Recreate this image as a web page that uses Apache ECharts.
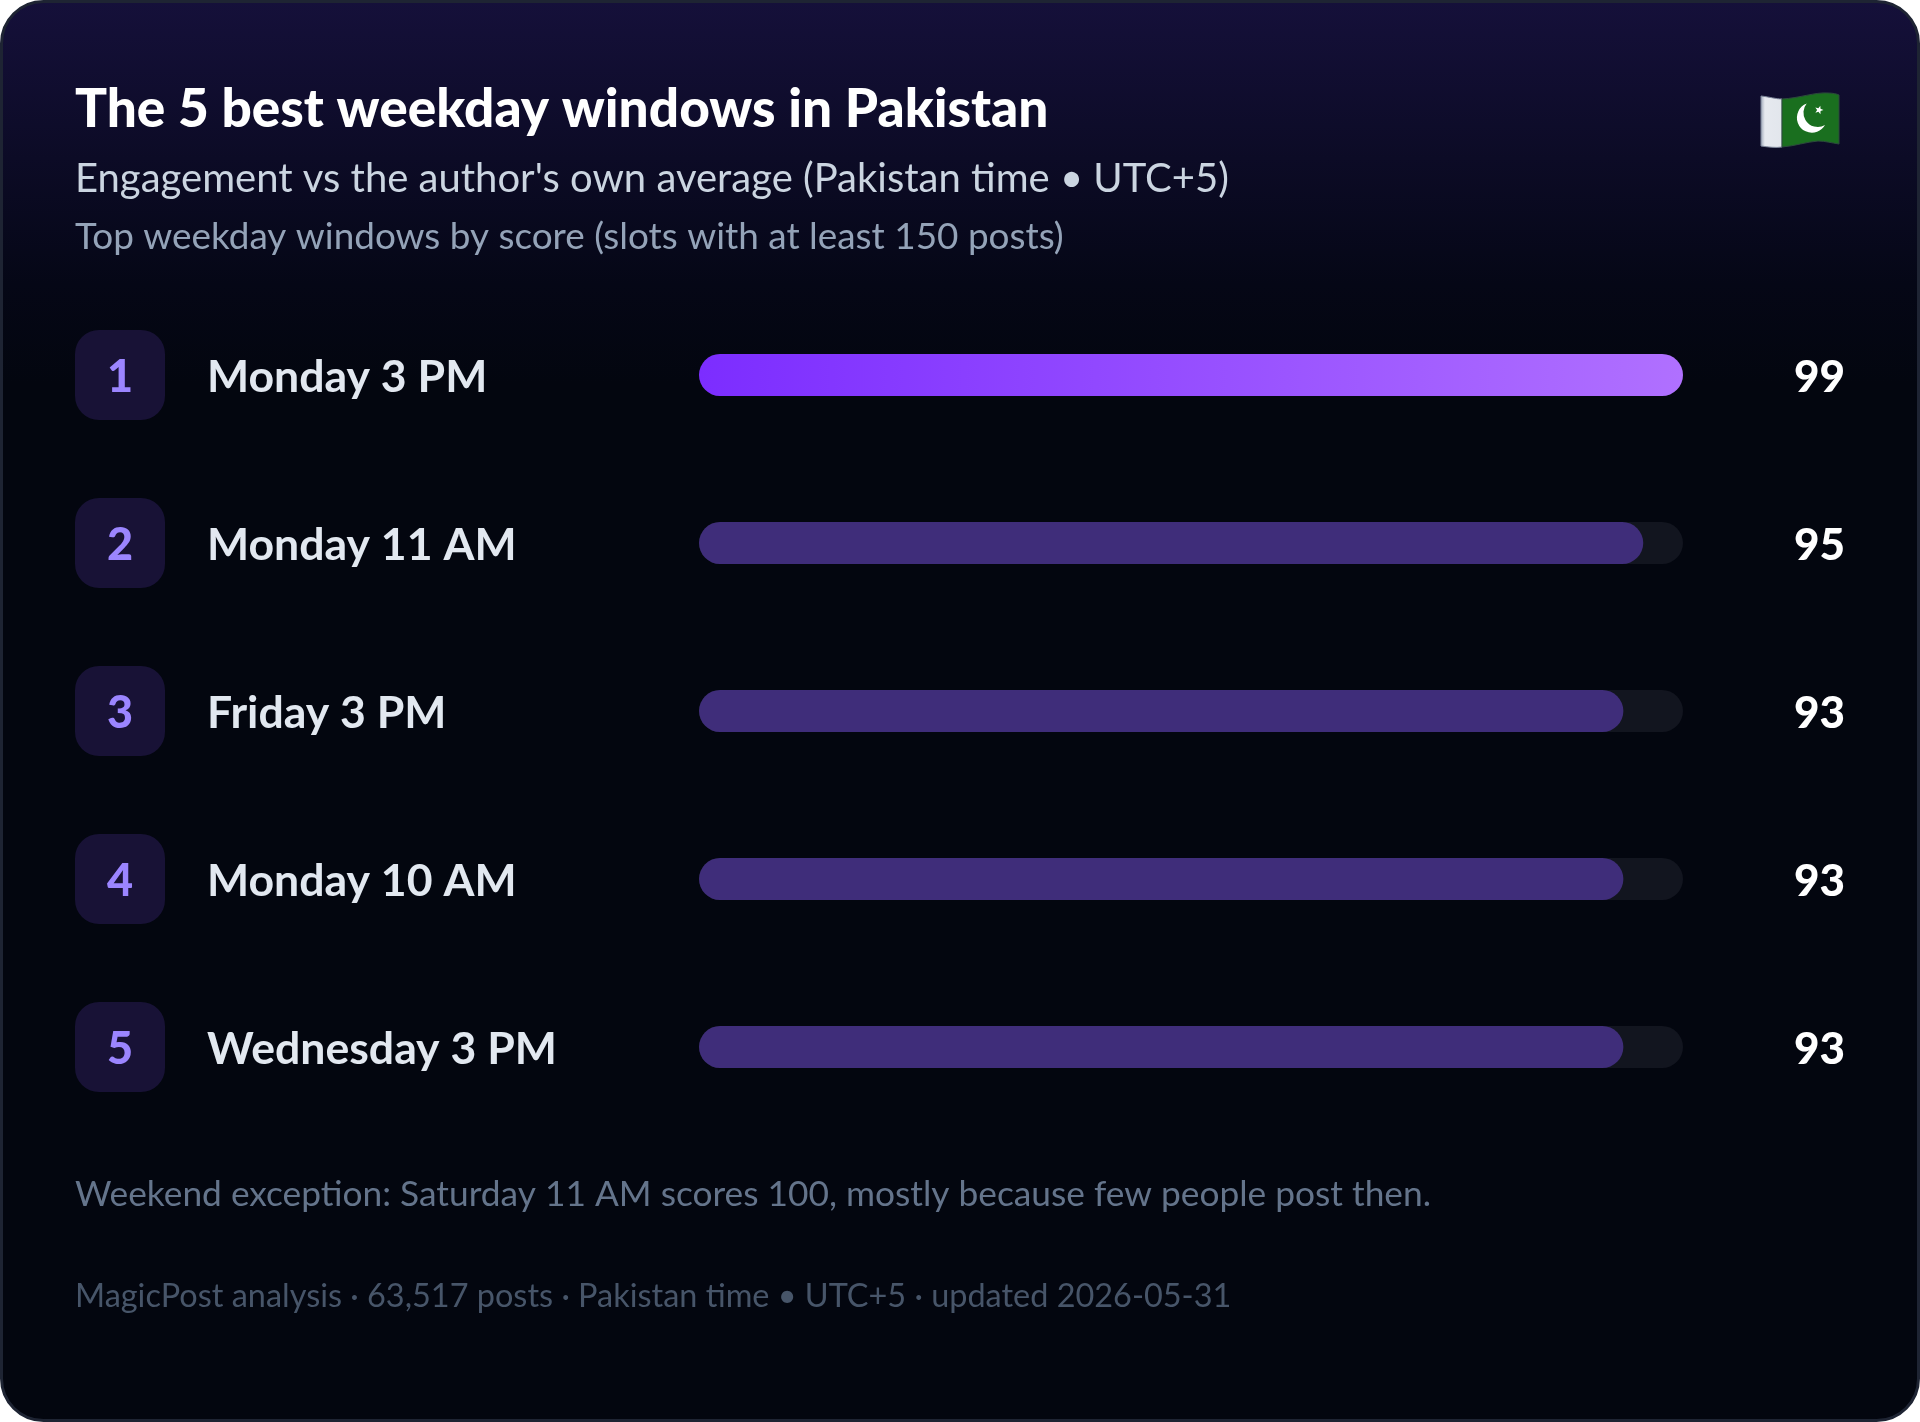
<!DOCTYPE html>
<html><head><meta charset="utf-8">
<style>html,body{margin:0;padding:0;background:#fff}#c{width:1920px;height:1422px}</style>
<script src="https://cdn.jsdelivr.net/npm/echarts@6/dist/echarts.min.js"></script>
</head><body><div id="c"></div>
<script>
const slots = ['Monday 3 PM','Monday 11 AM','Friday 3 PM','Monday 10 AM','Wednesday 3 PM'];
const scores = [99,95,93,93,93];
const ranks = [1,2,3,4,5];
const titleText = 'The 5 best weekday windows in Pakistan';
const subtitleText = "Engagement vs the author's own average (Pakistan time \u2022 UTC+5)";
const subtitle2Text = 'Top weekday windows by score (slots with at least 150 posts)';
const noteText = 'Weekend exception: Saturday 11 AM scores 100, mostly because few people post then.';
const footText = 'MagicPost analysis \u00b7 63,517 posts \u00b7 Pakistan time \u2022 UTC+5 \u00b7 updated 2026-05-31';
const F = 'Lato';
const chart = echarts.init(document.getElementById('c'), null, {renderer:'canvas', width:1920, height:1422});
const txt = (t,x,y,size,color,weight)=>({text:t,left:x,top:y,padding:0,textStyle:{fontFamily:F,fontSize:size,color:color,fontWeight:weight||'normal',lineHeight:size*1.2}});
const star=(cx,cy,R,r)=>{const p=[];for(let i=0;i<10;i++){const a=-Math.PI/2+i*Math.PI/5+0.3,q=i%2?r:R;p.push([cx+q*Math.cos(a),cy+q*Math.sin(a)]);}return p;};
chart.setOption({
  animation:false,
  backgroundColor:'transparent',
  title:[
    txt(titleText,75,78,53.2,'#ffffff',900),
    txt(subtitleText,75,155,40,'#cbd5e1'),
    txt(subtitle2Text,75,215,36.9,'#94a3b8'),
    txt(noteText,75,1173,35.3,'#64748b'),
    txt(footText,75,1277,32.45,'#475569')
  ],
  graphic:[
    {type:'rect',z:-10,silent:true,shape:{x:1.5,y:1.5,width:1917,height:1419,r:42},
     style:{stroke:'#1e2433',lineWidth:3,fill:new echarts.graphic.LinearGradient(0,0,0,1,[
       {offset:0,color:'#15103a'},{offset:0.2,color:'#050716'},{offset:0.27,color:'#03060f'},{offset:1,color:'#03060f'}])}},
    {type:'polygon',z:6,silent:true,shape:{points:star(1819,110,4.5,1.9)},style:{fill:'#ffffff'},zlevel:1}
  ],
  grid:{left:699,top:291,width:984,height:840,containLabel:false},
  xAxis:{type:'value',min:0,max:99,show:false},
  yAxis:[
    {type:'category',inverse:true,data:slots,axisLine:{show:false},axisTick:{show:false},
     axisLabel:{align:'left',margin:624,
       formatter:(v,i)=>`{rank|${ranks[i]}}{gap|}{name|${v}}`,
       rich:{
        rank:{width:90,height:85,padding:[5,0,0,0],borderRadius:24,backgroundColor:'#181236',align:'center',verticalAlign:'middle',
              color:'#9b85ff',fontFamily:F,fontWeight:900,fontSize:45},
        gap:{width:42},
        name:{color:'#e2e8f0',fontFamily:F,fontWeight:'bold',fontSize:44.6,verticalAlign:'middle',padding:[5,0,0,0]}
       }}},
    {type:'category',inverse:true,position:'right',data:scores.map(String),axisLine:{show:false},axisTick:{show:false},
     axisLabel:{align:'right',margin:162,formatter:(v)=>`{v|${v}}`,
       rich:{v:{padding:[5,0,0,0],color:'#ffffff',fontFamily:F,fontWeight:900,fontSize:44,verticalAlign:'middle'}}}}
  ],
  series:[{
    type:'bar',silent:true,barWidth:42,
    showBackground:true,
    backgroundStyle:{color:'#12151f',borderRadius:21},
    itemStyle:{borderRadius:21},
    data:scores.map((v,i)=>({value:v,itemStyle:{color:i===0?new echarts.graphic.LinearGradient(0,0,1,0,[{offset:0,color:'#7c2dff'},{offset:1,color:'#b070ff'}]):'#3f2d7a'}}))
  }]
});
// Decorative waved flag (the reference shows it as an emoji picture)
const zr = chart.getZr();
const deco = (d,style,z)=>zr.add(echarts.graphic.makePath(d,{silent:true,z:z,style:style},null));
deco('M1761,96 C1770,97 1776,99 1782,99 L1782,147 C1776,148 1768,147 1761,146 Z',
  {fill:new echarts.graphic.LinearGradient(0,0,1,0,[{offset:0,color:'#9aa3b5'},{offset:0.2,color:'#e6e9ef'},{offset:1,color:'#e2e6ec'}]),stroke:'#7f889c',lineWidth:1},50);
deco('M1782,99 C1800,98 1815,92 1828,93 C1833,93 1837,94 1839,95 L1839,144 C1832,143 1825,141 1818,141 C1806,142 1795,146 1782,147 Z',
  {fill:'#1a6f1f',stroke:'#2c4a3c',lineWidth:1},50);
deco('M1806.7,103.6 A15,15 0 1 0 1825,125 A14.3,14.3 0 0 1 1806.7,103.6 Z',{fill:'#ffffff'},51);
</script></body></html>
